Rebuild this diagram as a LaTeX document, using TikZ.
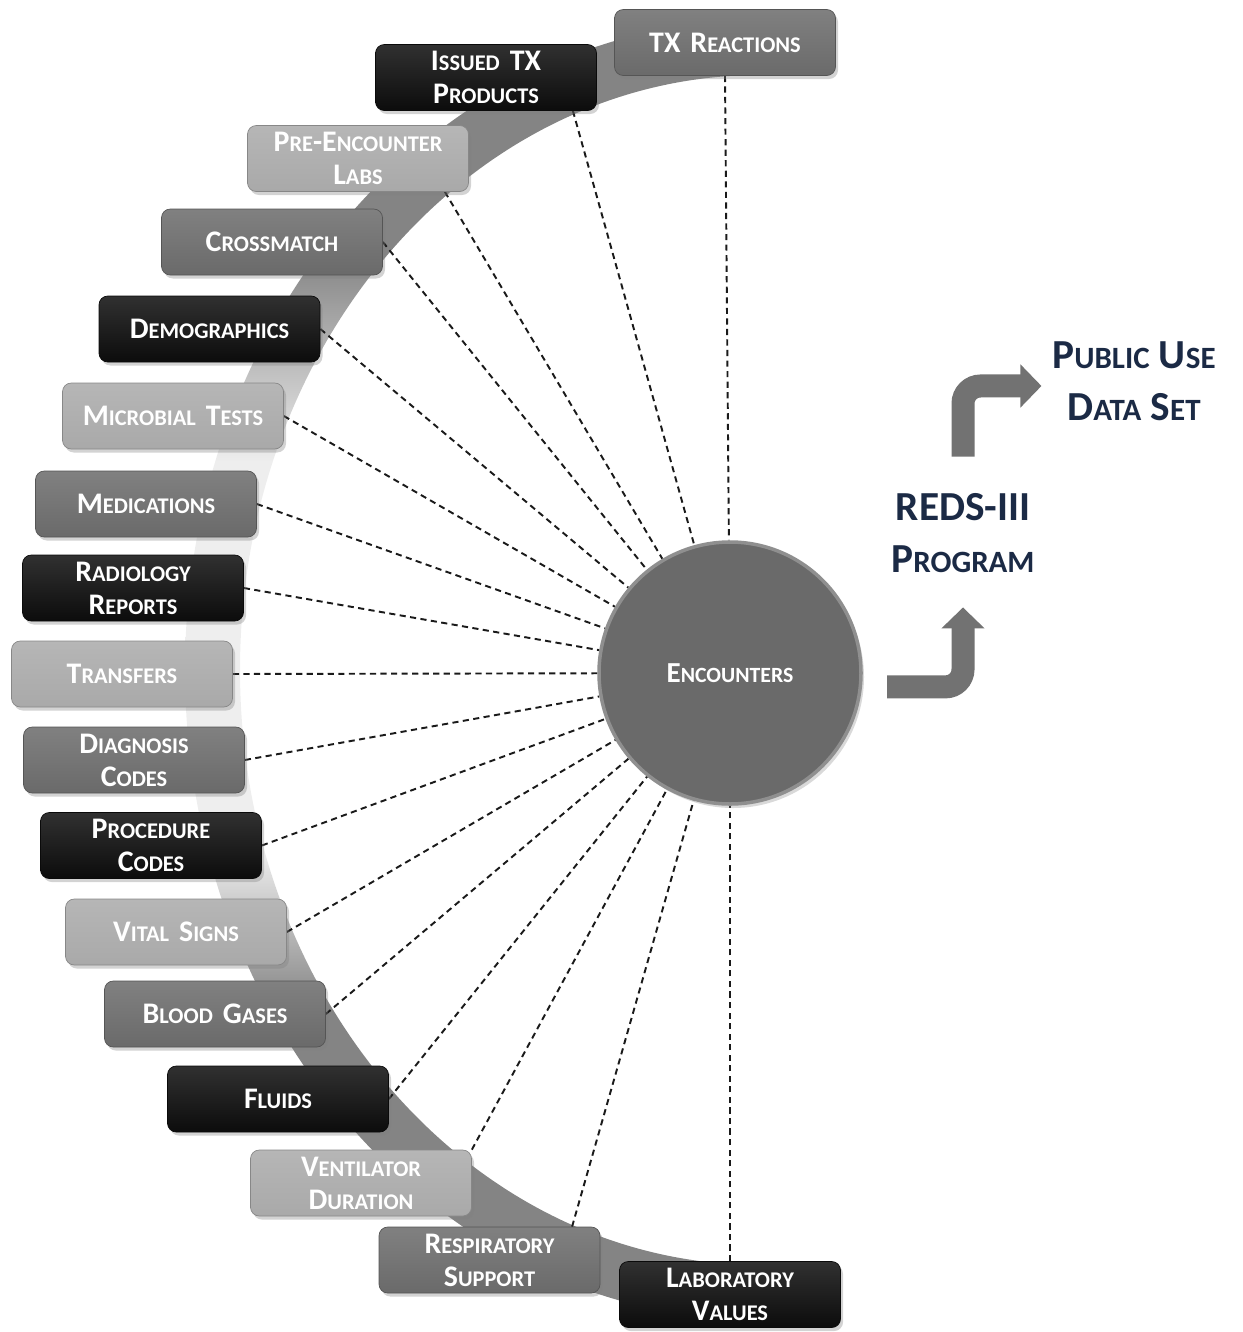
\documentclass[tikz,border=0pt]{standalone}
\usepackage{fontspec}
\setmainfont{Carlito}
\usepackage{xcolor}
\usepackage{tikz}
\usetikzlibrary{arrows.meta,positioning,backgrounds,shadows}
\definecolor{cBlack}{HTML}{0C0C0C}
\definecolor{cMid}{HTML}{6A6A6A}
\definecolor{cLight}{HTML}{A9A9A9}
\definecolor{cBand}{HTML}{848484}
\definecolor{cBandMid}{HTML}{EEEEEE}
\definecolor{cNavy}{HTML}{1B2A45}
\definecolor{cDash}{HTML}{1A1A1A}
\definecolor{cArrow}{HTML}{727272}
\makeatletter
\newcommand{\smc}[1]{{\fontsize{\fpeval{0.75*\f@size}}{\f@baselineskip}\selectfont\MakeUppercase{#1}}}
\makeatother
\pgfdeclareverticalshading{bandshade}{100bp}{color(0bp)=(cBand); color(37bp)=(cBand);
  color(43bp)=(cBandMid); color(58bp)=(cBandMid); color(66bp)=(cBand); color(100bp)=(cBand)}
\tikzset{
  tbox/.style={top color=#1!85!white,bottom color=#1,draw=#1!80!black,line width=0.4pt,rounded corners=5pt,
    minimum width=4.42cm,minimum height=1.32cm,text width=4.2cm,align=center,inner sep=2pt,text=white,
    font=\fontsize{17}{18.8}\selectfont\bfseries,
    drop shadow={opacity=0.35,shadow xshift=0.05cm,shadow yshift=-0.07cm}},
  tbox/.default=cMid,
  hub/.style={circle,fill=cMid,draw=cMid!75!white,line width=2pt,minimum size=5.24cm,text=white,
    font=\fontsize{16.5}{19}\selectfont\bfseries,
    drop shadow={opacity=0.3,shadow xshift=0.06cm,shadow yshift=-0.08cm}},
  lnk/.style={cDash,line width=1.1pt,dash pattern=on 3.5pt off 2.5pt},
  ttl/.style={text=cNavy,align=center,font=\fontsize{23.5}{29.5}\selectfont\bfseries,inner sep=2pt},
  fatarr/.style={draw=cArrow,line width=0.46cm,rounded corners=0.35cm,-{Triangle[length=0.42cm,width=0.84cm]}},
}

\begin{document}
\begin{tikzpicture}[x=1cm,y=1cm]
  \useasboundingbox (0,0) rectangle (24.86,-26.64);
  \node[hub] (enc) at (14.6,-13.46) {E\smc{ncounters}};
  \node[tbox=cMid]   (txr) at (14.5,-0.85)  {TX R\smc{eactions}};
  \node[tbox=cBlack] (iss) at (9.72,-1.55)  {I\smc{ssued} TX\\P\smc{roducts}};
  \node[tbox=cLight] (pre) at (7.16,-3.17)  {P\smc{re}-E\smc{ncounter}\\L\smc{abs}};
  \node[tbox=cMid]   (crs) at (5.44,-4.84)  {C\smc{rossmatch}};
  \node[tbox=cBlack] (dem) at (4.19,-6.58)  {D\smc{emographics}};
  \node[tbox=cLight] (mic) at (3.46,-8.32)  {M\smc{icrobial} T\smc{ests}};
  \node[tbox=cMid]   (med) at (2.92,-10.08) {M\smc{edications}};
  \node[tbox=cBlack] (rad) at (2.66,-11.76) {R\smc{adiology}\\R\smc{eports}};
  \node[tbox=cLight] (trf) at (2.44,-13.48) {T\smc{ransfers}};
  \node[tbox=cMid]   (dia) at (2.68,-15.2)  {D\smc{iagnosis}\\C\smc{odes}};
  \node[tbox=cBlack] (prc) at (3.02,-16.91) {P\smc{rocedure}\\C\smc{odes}};
  \node[tbox=cLight] (vit) at (3.52,-18.64) {V\smc{ital} S\smc{igns}};
  \node[tbox=cMid]   (bld) at (4.3,-20.28)  {B\smc{lood} G\smc{ases}};
  \node[tbox=cBlack] (flu) at (5.56,-21.98) {F\smc{luids}};
  \node[tbox=cLight] (ven) at (7.22,-23.66) {V\smc{entilator}\\D\smc{uration}};
  \node[tbox=cMid]   (rsp) at (9.79,-25.2)  {R\smc{espiratory}\\S\smc{upport}};
  \node[tbox=cBlack] (lab) at (14.6,-25.89) {L\smc{aboratory}\\V\smc{alues}};
  \node[ttl] (reds) at (19.26,-10.66) {REDS-III\\P\smc{rogram}};
  \node[ttl] (pub)  at (22.68,-7.63)  {P\smc{ublic} U\smc{se}\\D\smc{ata} S\smc{et}};
  \begin{scope}[on background layer]
    % crescent behind the boxes
    \shade[shading=bandshade]
      (15.2,-0.4) arc[start angle=90,end angle=270,x radius=11.5cm,y radius=13cm]
      -- (15.2,-25.3) arc[start angle=270,end angle=90,x radius=10.4cm,y radius=11.9cm] -- cycle;
    \draw[lnk] (txr.south) -- (enc);
    \draw[lnk] (iss.-21) -- (enc);
    \draw[lnk] (pre.-21) -- (enc);
    \draw[lnk] (crs.east) -- (enc);
    \draw[lnk] (dem.east) -- (enc);
    \draw[lnk] (mic.east) -- (enc);
    \draw[lnk] (med.east) -- (enc);
    \draw[lnk] (rad.east) -- (enc);
    \draw[lnk] (trf.east) -- (enc);
    \draw[lnk] (dia.east) -- (enc);
    \draw[lnk] (prc.east) -- (enc);
    \draw[lnk] (vit.east) -- (enc);
    \draw[lnk] (bld.east) -- (enc);
    \draw[lnk] (flu.east) -- (enc);
    \draw[lnk] (ven.north east) -- (enc);
    \draw[lnk] (rsp.22) -- (enc);
    \draw[lnk] (lab.north) -- (enc);
  \end{scope}
  \draw[fatarr,shorten <=0.5cm,shorten >=0.62cm] (enc.-6) -| (reds.south);
  \draw[fatarr,shorten <=0.66cm,shorten >=0.14cm] (reds.north) |- (pub.183);
\end{tikzpicture}
\end{document}
